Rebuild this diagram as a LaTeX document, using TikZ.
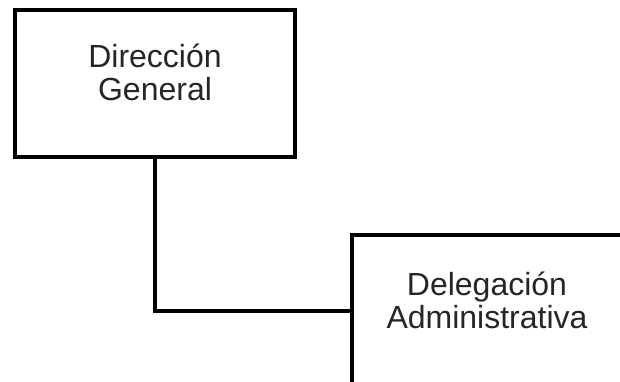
\documentclass[tikz,border=0pt]{standalone}
\usepackage{fontspec}
\setmainfont{Liberation Sans}
\usetikzlibrary{positioning}

\definecolor{labelgray}{HTML}{262626}
\newcommand\unitname[2]{\raisebox{6pt}[\height][\depth]{\begin{tabular}{@{}c@{}}#1\\#2\end{tabular}}}

\begin{document}
\begin{tikzpicture}[
        x=1pt, y=-1pt,
        unit/.style={rectangle, draw, line width=3.5pt, fill=white, text=labelgray,
            minimum width=280pt, minimum height=147pt, inner sep=0pt,
            font=\fontsize{32}{32.5}\selectfont},
        link/.style={draw, line width=3.5pt}
    ]
    \clip (0,0) rectangle (620,381);
    \node[unit] (Dir) at (155,83.5) {\unitname{Dirección}{General}};
    \node[unit, minimum width=270pt, minimum height=152pt] (Del) at (487,311) {\unitname{Delegación}{Administrativa}};
    \draw[link] (Dir.south) |- (Del.west);
\end{tikzpicture}
\end{document}
